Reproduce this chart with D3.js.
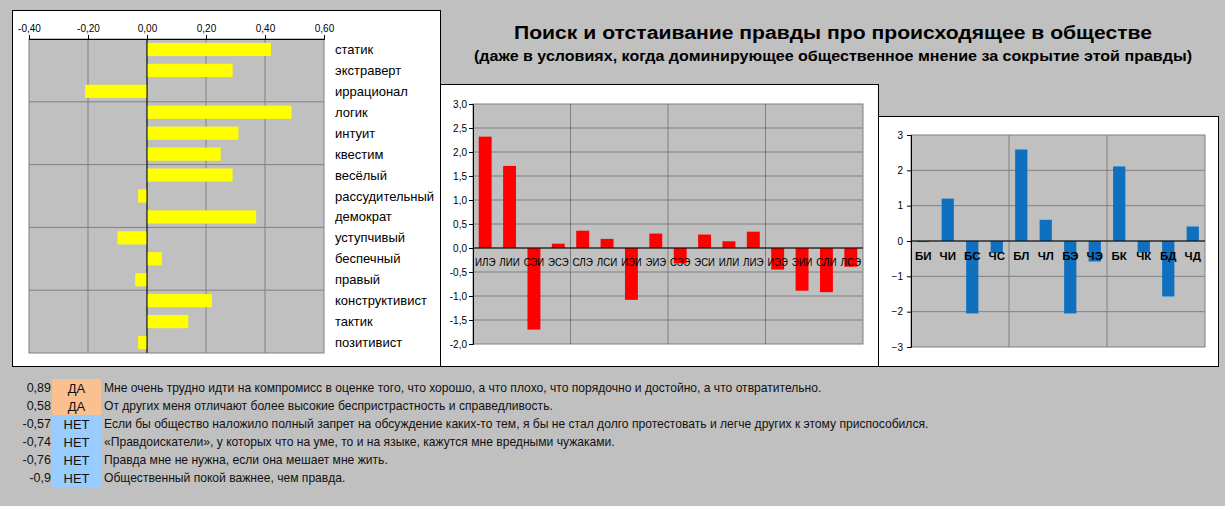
<!DOCTYPE html>
<html>
<head>
<meta charset="utf-8">
<script src="https://cdnjs.cloudflare.com/ajax/libs/d3/7.8.5/d3.min.js"></script>
<style>
	body { margin: 0; background: #c0c0c0; }
	svg  { display: block; font-family: "Liberation Sans", Arial, sans-serif; }
</style>
</head>
<body>
<svg id="chart" width="1225" height="506"></svg>
<script>
// data
var traitNames  = ["статик", "экстраверт", "иррационал", "логик", "интуит", "квестим", "весёлый",
				   "рассудительный", "демократ", "уступчивый", "беспечный", "правый",
				   "конструктивист", "тактик", "позитивист"];
var traitValues = [0.42, 0.29, -0.21, 0.49, 0.31, 0.25, 0.29, -0.03, 0.37, -0.10, 0.05, -0.04, 0.22, 0.14, -0.03];
var traitTicks  = [-0.4, -0.2, 0, 0.2, 0.4, 0.6];

var typeNames  = ["ИЛЭ", "ЛИИ", "СЭИ", "ЭСЭ", "СЛЭ", "ЛСИ", "ИЭИ", "ЭИЭ",
				  "СЭЭ", "ЭСИ", "ИЛИ", "ЛИЭ", "ИЭЭ", "ЭИИ", "СЛИ", "ЛСЭ"];
var typeValues = [2.32, 1.71, -1.70, 0.09, 0.36, 0.19, -1.08, 0.30,
				  -0.32, 0.28, 0.14, 0.34, -0.45, -0.89, -0.92, -0.39];
var typeTicks  = [-2, -1.5, -1, -0.5, 0, 0.5, 1, 1.5, 2, 2.5, 3];

var aspectNames  = ["БИ", "ЧИ", "БС", "ЧС", "БЛ", "ЧЛ", "БЭ", "ЧЭ", "БК", "ЧК", "БД", "ЧД"];
var aspectValues = [-0.03, 1.2, -2.05, -0.34, 2.59, 0.60, -2.05, -0.58, 2.11, -0.33, -1.57, 0.41];
var aspectTicks  = [-3, -2, -1, 0, 1, 2, 3];

var rowScores  = ["0,89", "0,58", "-0,57", "-0,74", "-0,76", "-0,9"];
var rowAnswers = ["ДА", "ДА", "НЕТ", "НЕТ", "НЕТ", "НЕТ"];
var rowTexts   = [
	"Мне очень трудно идти на компромисс в оценке того, что хорошо, а что плохо, что порядочно и достойно, а что отвратительно.",
	"От других меня отличают более высокие беспристрастность и справедливость.",
	"Если бы общество наложило полный запрет на обсуждение каких-то тем, я бы не стал долго протестовать и легче других к этому приспособился.",
	"«Правдоискатели», у которых что на уме, то и на языке, кажутся мне вредными чужаками.",
	"Правда мне не нужна, если она мешает мне жить.",
	"Общественный покой важнее, чем правда."
];

var titleText    = "Поиск и отстаивание правды про происходящее в обществе";
var subtitleText = "(даже в условиях, когда доминирующее общественное мнение за сокрытие этой правды)";

var gridColor = "#808080";
var plotColor = "#c0c0c0";
var commaFmt = function( digits ){
	return function(d){ return d3.format("." + digits + "f")(d).replace(".", ",").replace("−", "-"); };
};

var svg = d3.select("#chart");

//panels
function panel( x, y, w, h ){
	svg.append("rect")
		.attr("x", x + 0.5).attr("y", y + 0.5)
		.attr("width", w).attr("height", h)
		.attr("fill", "#fff")
		.attr("stroke", "#000");
}
panel(12, 10, 428, 356);
panel(440, 84, 438, 282);
panel(878, 116, 340, 250);

//title
svg.append("text")
	.attr("x", 833).attr("y", 39)
	.attr("text-anchor", "middle")
	.attr("textLength", 638).attr("lengthAdjust", "spacingAndGlyphs")
	.style("font-size", "18px").style("font-weight", "bold")
	.text(titleText);
svg.append("text")
	.attr("x", 833).attr("y", 61)
	.attr("text-anchor", "middle")
	.attr("textLength", 718).attr("lengthAdjust", "spacingAndGlyphs")
	.style("font-size", "14px").style("font-weight", "bold")
	.text(subtitleText);

// ---------- traits (horizontal bars) ----------
(function(){
	var x = d3.scaleLinear().domain([-0.4, 0.6]).range([29, 324]);
	var y = d3.scaleBand().domain(traitNames).range([39, 353]).paddingInner(0.37).paddingOuter(0.185);
	var g = svg.append("g");

	g.append("rect")
		.attr("x", x.range()[0]).attr("y", y.range()[0])
		.attr("width", x.range()[1] - x.range()[0]).attr("height", y.range()[1] - y.range()[0])
		.attr("fill", plotColor).attr("stroke", gridColor);

	g.selectAll(".vgrid").data(traitTicks.slice(1, -1)).enter().append("line")
		.attr("x1", x).attr("x2", x)
		.attr("y1", y.range()[0]).attr("y2", y.range()[1])
		.attr("stroke", gridColor);

	g.selectAll(".hgrid").data([3, 6, 9, 12]).enter().append("line")
		.attr("x1", x.range()[0]).attr("x2", x.range()[1])
		.attr("y1", function(d){ return y.range()[0] + d * y.step(); })
		.attr("y2", function(d){ return y.range()[0] + d * y.step(); })
		.attr("stroke", gridColor);

	g.selectAll(".bar").data(traitValues).enter().append("rect")
		.attr("x", function(d){ return x(Math.min(0, d)); })
		.attr("y", function(d, i){ return y(traitNames[i]); })
		.attr("width", function(d){ return Math.abs(x(d) - x(0)); })
		.attr("height", y.bandwidth())
		.attr("fill", "#ffff00");

	g.append("line")
		.attr("x1", x(0)).attr("x2", x(0))
		.attr("y1", y.range()[0]).attr("y2", y.range()[1])
		.attr("stroke", "#000");

	var axis = g.append("g")
		.attr("transform", "translate(0," + y.range()[0] + ")")
		.call(d3.axisTop(x).tickValues(traitTicks).tickFormat(commaFmt(2)).tickSize(4).tickPadding(3));
	axis.selectAll("text").style("font-size", "10px").attr("fill", "#000").style("font-family", "inherit");
	axis.selectAll("line, path").attr("stroke", "#000");

	g.selectAll(".lbl").data(traitNames).enter().append("text")
		.attr("x", 335)
		.attr("y", function(d){ return y(d) + y.bandwidth() / 2; })
		.attr("dy", "0.35em")
		.style("font-size", "13px")
		.text(function(d){ return d; });
})();

// ---------- column chart helper ----------
function columnChart( names, values, ticks, opts ){
	var x = d3.scaleBand().domain(names).range(opts.xRange).paddingInner(opts.pad).paddingOuter(opts.pad / 2);
	var y = d3.scaleLinear().domain([ticks[0], ticks[ticks.length - 1]]).range(opts.yRange);
	var g = svg.append("g");

	g.append("rect")
		.attr("x", opts.xRange[0]).attr("y", opts.yRange[1])
		.attr("width", opts.xRange[1] - opts.xRange[0]).attr("height", opts.yRange[0] - opts.yRange[1])
		.attr("fill", plotColor).attr("stroke", gridColor);

	g.selectAll(".hgrid").data(ticks.slice(1, -1)).enter().append("line")
		.attr("x1", opts.xRange[0]).attr("x2", opts.xRange[1])
		.attr("y1", y).attr("y2", y)
		.attr("stroke", gridColor);

	var groups = d3.range(4, names.length, 4);
	g.selectAll(".vgrid").data(groups).enter().append("line")
		.attr("x1", function(d){ return opts.xRange[0] + d * x.step(); })
		.attr("x2", function(d){ return opts.xRange[0] + d * x.step(); })
		.attr("y1", opts.yRange[0]).attr("y2", opts.yRange[1])
		.attr("stroke", gridColor);

	var axis = g.append("g")
		.attr("transform", "translate(" + opts.xRange[0] + ",0)")
		.call(d3.axisLeft(y).tickValues(ticks).tickFormat(opts.fmt).tickSize(4).tickPadding(opts.tickPad));
	axis.selectAll("text").style("font-size", "10px").attr("fill", "#000").style("font-family", "inherit");
	axis.selectAll("line, path").attr("stroke", "#000");

	g.selectAll(".bar").data(values).enter().append("rect")
		.attr("x", function(d, i){ return x(names[i]); })
		.attr("y", function(d){ return y(Math.max(0, d)); })
		.attr("width", x.bandwidth())
		.attr("height", function(d){ return Math.abs(y(d) - y(0)); })
		.attr("fill", opts.color);

	g.append("line")
		.attr("x1", opts.xRange[0]).attr("x2", opts.xRange[1])
		.attr("y1", y(0)).attr("y2", y(0))
		.attr("stroke", "#000");

	//category labels, drawn over the bars
	var labels = g.selectAll(".lbl").data(names).enter().append("text")
		.attr("x", function(d){ return x(d) + x.bandwidth() / 2; })
		.attr("y", opts.labelY)
		.attr("dy", "0.35em")
		.attr("text-anchor", "middle")
		.style("font-size", opts.labelSize)
		.style("font-weight", opts.labelWeight)
		.text(function(d){ return d; });
	if (opts.labelWidth)
		labels.attr("textLength", opts.labelWidth).attr("lengthAdjust", "spacingAndGlyphs");
}

columnChart(typeNames, typeValues, typeTicks, {
	xRange: [473, 863], yRange: [344, 104], pad: 0.47,
	fmt: commaFmt(1), tickPad: 2,
	labelY: 262, labelSize: "11.5px", labelWeight: "normal", labelWidth: 20.5,
	color: "#ff0000"
});

columnChart(aspectNames, aspectValues, aspectTicks, {
	xRange: [911, 1205], yRange: [347, 135], pad: 0.5,
	fmt: d3.format("d"), tickPad: 4,
	labelY: 256, labelSize: "11.5px", labelWeight: "bold",
	color: "#1070c0"
});

// ---------- statements ----------
var rowTop = 379, rowH = 18;
var rows = svg.append("g").selectAll("g").data(rowTexts).enter().append("g")
	.attr("transform", function(d, i){ return "translate(0," + (rowTop + i * rowH) + ")"; });

rows.append("rect")
	.attr("x", 52).attr("width", 49).attr("height", rowH)
	.attr("fill", function(d, i){ return rowAnswers[i] == "ДА" ? "#fac090" : "#99ccff"; });

rows.append("text")
	.attr("x", 51).attr("y", rowH / 2).attr("dy", "0.35em")
	.attr("text-anchor", "end")
	.style("font-size", "12.5px").attr("fill", "#111")
	.text(function(d, i){ return rowScores[i]; });

rows.append("text")
	.attr("x", 76.5).attr("y", rowH / 2).attr("dy", "0.35em")
	.attr("text-anchor", "middle")
	.style("font-size", "13px").attr("fill", "#111")
	.text(function(d, i){ return rowAnswers[i]; });

rows.append("text")
	.attr("x", 104).attr("y", rowH / 2).attr("dy", "0.35em")
	.style("font-size", "12.1px").attr("fill", "#111")
	.text(function(d){ return d; });
</script>
</body>
</html>
